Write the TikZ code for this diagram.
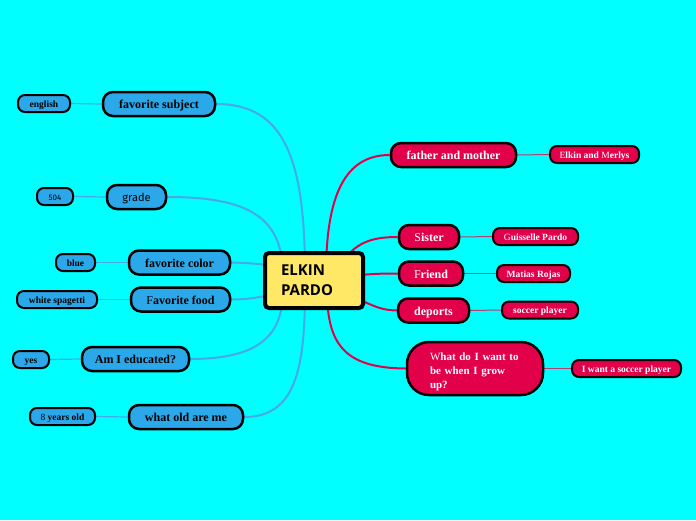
\documentclass[tikz,border=0pt]{standalone}
\usepackage{fontspec}
\setmainfont{Liberation Serif}
\newfontfamily\rootfont{Open Sans}
\newfontfamily\gradefont{Fira Sans}
\usetikzlibrary{backgrounds}
\definecolor{mapbg}{HTML}{00FFFF}
\definecolor{mapblue}{HTML}{2AA8E9}
\definecolor{mapred}{HTML}{E3004B}
\definecolor{mapyellow}{HTML}{FFE866}
\definecolor{linkblue}{HTML}{45A9EA}
\definecolor{leafred}{HTML}{B3406E}

\begin{document}
\begin{tikzpicture}[x=1pt, y=-1pt,
      root/.style={draw, line width=4pt, fill=mapyellow, rounded corners=4pt,
                   minimum width=98pt, minimum height=55pt, inner sep=0pt,
                   text width=66pt, align=left,
                   font=\rootfont\bfseries\fontsize{15}{20}\selectfont},
      topic/.style={draw, line width=2.5pt, fill=mapblue, rounded corners=10pt,
                    minimum height=24pt, inner sep=0pt,
                    text height=11pt, text depth=1.5pt,
                    font=\bfseries\fontsize{12}{14}\selectfont},
      leaf/.style={draw, line width=2pt, fill=mapblue, rounded corners=7pt,
                   minimum height=17pt, inner sep=0pt,
                   text height=8.5pt, text depth=1.5pt,
                   font=\bfseries\fontsize{9.5}{11}\selectfont},
      rtopic/.style={topic, fill=mapred, text=white},
      rleaf/.style={leaf, fill=mapred, text=white},
      blink/.style={draw=linkblue, line width=2pt},
      rlink/.style={draw=mapred, line width=2pt},
      btwig/.style={draw=linkblue, line width=1.2pt},
      rtwig/.style={draw=leafred, line width=1pt}
  ]
    % centre
    \node[root] (hub) at (314,280.5) {ELKIN\\PARDO};

    % left branches
    \node[topic, minimum width=112pt] (subj) at (159,104) {favorite subject};
    \node[leaf, minimum width=52pt] (engl) at (44,103.5) {english};
    \node[topic, minimum width=59pt, font=\gradefont\fontsize{11}{13}\selectfont] (grade) at (136.5,197) {grade};
    \node[leaf, minimum width=36pt, font=\gradefont\fontsize{8}{10}\selectfont] (num) at (55,196.5) {504};
    \node[topic, minimum width=101pt] (color) at (179.5,262.5) {favorite color};
    \node[leaf, minimum width=39pt] (blue) at (75.5,262.5) {blue};
    \node[topic, minimum width=99pt] (food) at (180.5,299.5) {{\mdseries F}avorite food};
    \node[leaf, minimum width=80pt] (spag) at (57,299.5) {white spagetti};
    \node[topic, minimum width=107pt] (educ) at (135.5,359) {Am I educated?};
    \node[leaf, minimum width=36pt] (yes) at (31,359.5) {yes};
    \node[topic, minimum width=114pt] (age) at (186,417) {what old are me};
    \node[leaf, minimum width=65pt] (years) at (62.5,416.5) {{\mdseries 8} years old};

    % right branches
    \node[rtopic, minimum width=125pt] (parents) at (453.5,155) {father and mother};
    \node[rleaf, minimum width=89pt] (names) at (594.5,154.5) {{\mdseries E}lkin and {\mdseries M}erlys};
    \node[rtopic, minimum width=60pt] (sister) at (429,237) {{\mdseries S}ister};
    \node[rleaf, minimum width=85pt] (guis) at (535.5,236.5) {{\mdseries G}uisselle Pardo};
    \node[rtopic, minimum width=64pt] (friend) at (431,273.5) {{\mdseries F}riend};
    \node[rleaf, minimum width=73pt] (matias) at (533.5,273.5) {Matias Rojas};
    \node[rtopic, minimum width=71pt] (sport) at (433.5,310.5) {deports};
    \node[rleaf, minimum width=76pt] (socc) at (540,310) {soccer player};
    \node[rtopic, minimum width=136pt, minimum height=53pt, rounded corners=22pt,
          text width=90pt, text height=, text depth=, align=left,
          font=\bfseries\fontsize{11}{14}\selectfont] (grow) at (475,368.5)
          {\rule{0pt}{14pt}{\mdseries W}hat do I want to\\be when I grow\\up?};
    \node[rleaf, minimum width=109pt] (dream) at (626.5,368.5) {I want a soccer player};

    % ends inside the centre box
    \coordinate (inA) at (305,275);
    \coordinate (inB) at (283,275);
    \coordinate (inC) at (280,266);
    \coordinate (inD) at (280,293);
    \coordinate (inE) at (283,290);
    \coordinate (inF) at (305,290);
    \coordinate (inG) at (326,275);
    \coordinate (inH) at (340,265);
    \coordinate (inI) at (345,276);
    \coordinate (inJ) at (345,295);
    \coordinate (inK) at (327,290);

    \begin{scope}[on background layer]
      \fill[mapbg] (0,0) rectangle (696,520);
      % blue links
      \draw[blink] (subj.east) .. controls (285,104) and (305,160) .. (inA);
      \draw[blink] (grade.east) .. controls (245,197) and (283,215) .. (inB);
      \draw[blink] (color.east) .. controls (248,263) .. (inC);
      \draw[blink] (food.east) .. controls (250,299) .. (inD);
      \draw[blink] (educ.east) .. controls (260,359) and (283,335) .. (inE);
      \draw[blink] (age.east) .. controls (295,417) and (305,370) .. (inF);
      % red links
      \draw[rlink] (parents.west) .. controls (345,155) and (326,195) .. (inG);
      \draw[rlink] (sister.west) .. controls (370,237) and (355,243) .. (inH);
      \draw[rlink] (friend.west) .. controls (380,273.5) .. (inI);
      \draw[rlink] (sport.west) .. controls (375,310) and (370,302) .. (inJ);
      \draw[rlink] (grow.west) .. controls (345,368) and (327,345) .. (inK);
      % twigs
      \draw[btwig] (engl.east) -- (subj.west);
      \draw[btwig] (num.east) -- (grade.west);
      \draw[btwig] (blue.east) -- (color.west);
      \draw[btwig] (spag.east) -- (food.west);
      \draw[btwig] (yes.east) -- (educ.west);
      \draw[btwig] (years.east) -- (age.west);
      \draw[rtwig] (parents.east) -- (names.west);
      \draw[rtwig] (sister.east) -- (guis.west);
      \draw[rtwig] (friend.east) -- (matias.west);
      \draw[rtwig] (sport.east) -- (socc.west);
      \draw[rtwig] (grow.east) -- (dream.west);
    \end{scope}
  \end{tikzpicture}
\end{document}
